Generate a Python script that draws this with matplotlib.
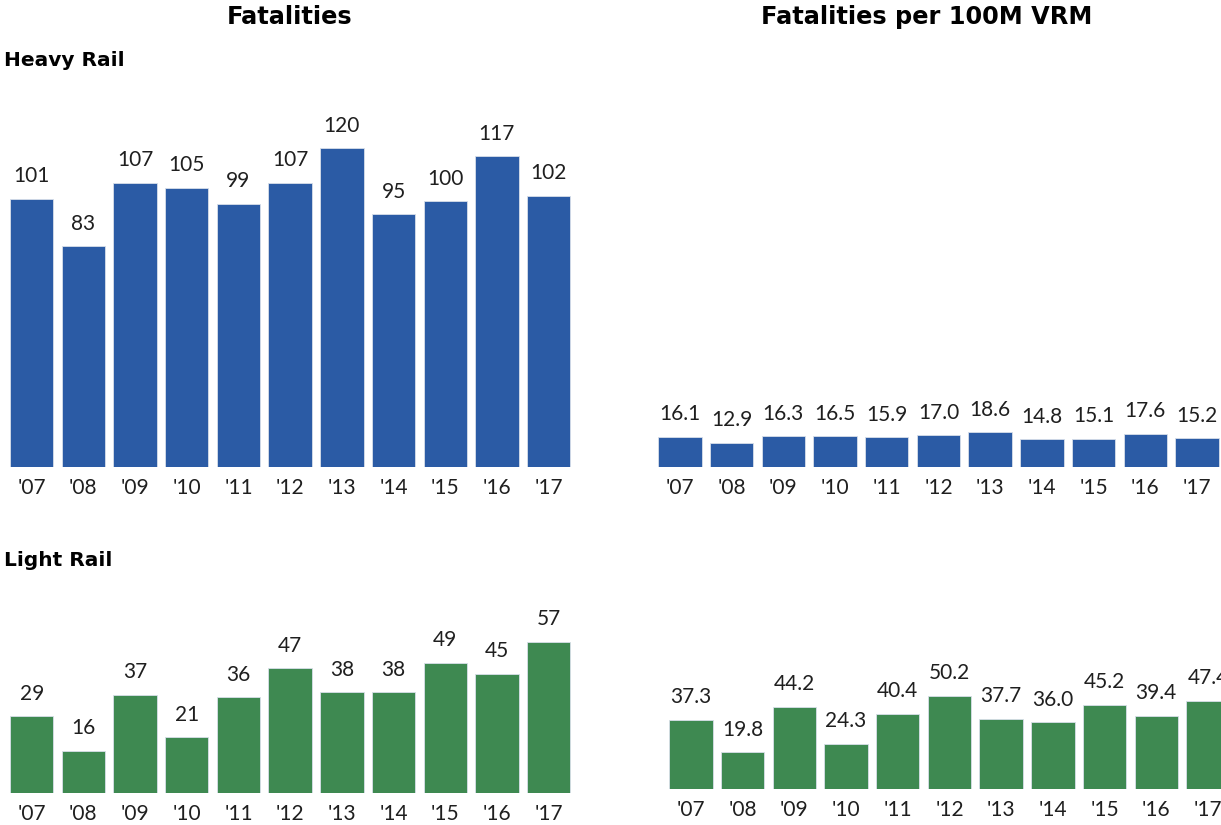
import matplotlib
matplotlib.use('Agg')
import matplotlib.pyplot as plt
import numpy as np

years = ["'07", "'08", "'09", "'10", "'11", "'12", "'13", "'14", "'15", "'16", "'17"]

heavy_fatal = [101, 83, 107, 105, 99, 107, 120, 95, 100, 117, 102]
heavy_rate = [16.1, 12.9, 16.3, 16.5, 15.9, 17.0, 18.6, 14.8, 15.1, 17.6, 15.2]
light_fatal = [29, 16, 37, 21, 36, 47, 38, 38, 49, 45, 57]
light_rate = [37.3, 19.8, 44.2, 24.3, 40.4, 50.2, 37.7, 36.0, 45.2, 39.4, 47.4]

blue = '#2B5BA5'
green = '#3E8951'
ink = '#1f1f1f'

plt.rcParams['font.family'] = ['Lato', 'DejaVu Sans']
head_font = ['DejaVu Sans']

W, H = 1221, 825
fig = plt.figure(figsize=(W / 100, H / 100), dpi=100)


def panel(left, base, top, ymax, values, color, fmt):
    # left/base/top in pixels from the top-left corner
    width = 11 * 51.7
    ax = fig.add_axes([left / W, (H - base) / H, width / W, (base - top) / H])
    x = np.arange(len(values))
    ax.bar(x, values, width=0.838, color=color, edgecolor='#d8dfe9', linewidth=0.6)
    for xi, v in zip(x, values):
        ax.annotate(fmt.format(v), (xi, v), xytext=(0, 9), textcoords='offset points',
                    ha='center', va='bottom', fontsize=15, color=ink)
    ax.set_xlim(-0.5, 10.5)
    ax.set_ylim(0, ymax)
    ax.set_xticks(x)
    ax.set_xticklabels(years, fontsize=15, color=ink)
    ax.tick_params(axis='x', length=0, pad=8)
    ax.set_yticks([])
    for s in ax.spines.values():
        s.set_visible(False)
    ax.patch.set_alpha(0)
    return ax


panel(5.8, 466.7, 100, 366.7 / 2.655, heavy_fatal, blue, '{:d}')
panel(654.1, 466.7, 100, 366.7 / 1.86, heavy_rate, blue, '{:.1f}')
panel(5.8, 793, 600, 193 / 2.655, light_fatal, green, '{:d}')
panel(665.1, 789, 600, 189 / 1.86, light_rate, green, '{:.1f}')

fig.text(290 / W, 1 - 17 / H, 'Fatalities', ha='center', va='center',
         fontsize=17.3, fontweight='bold', color='black', family=head_font)
fig.text(927 / W, 1 - 17 / H, 'Fatalities per 100M VRM', ha='center', va='center',
         fontsize=17.3, fontweight='bold', color='black', family=head_font)
fig.text(4 / W, 1 - 60 / H, 'Heavy Rail', ha='left', va='center',
         fontsize=14.5, fontweight='bold', color='black', family=head_font)
fig.text(4 / W, 1 - 560 / H, 'Light Rail', ha='left', va='center',
         fontsize=14.5, fontweight='bold', color='black', family=head_font)

fig.savefig('out.png', dpi=100)
